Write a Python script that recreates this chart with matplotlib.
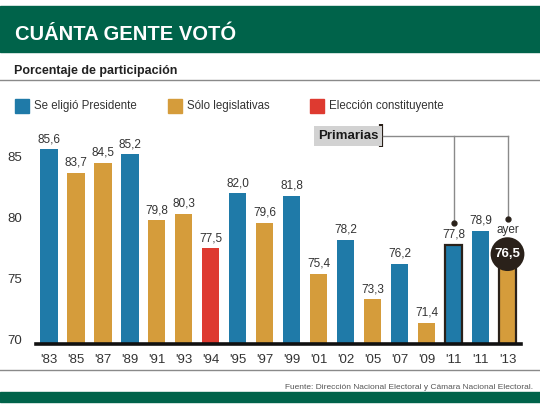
import matplotlib
matplotlib.use("Agg")
import matplotlib.pyplot as plt
from matplotlib.patches import Rectangle
import numpy as np

plt.rcParams["font.family"] = ["Liberation Sans", "DejaVu Sans"]

# data
years = ["'83", "'85", "'87", "'89", "'91", "'93", "'94", "'95", "'97",
         "'99", "'01", "'02", "'05", "'07", "'09", "'11", "'11", "'13"]
turnout = [85.6, 83.7, 84.5, 85.2, 79.8, 80.3, 77.5, 82.0, 79.6,
           81.8, 75.4, 78.2, 73.3, 76.2, 71.4, 77.8, 78.9, 76.5]
kind = ["P", "L", "L", "P", "L", "L", "C", "P", "L",
        "P", "L", "P", "L", "P", "L", "P", "P", "L"]
primarias = [15, 17]          # bars that were primaries
legend_labels = ["Se eligió Presidente", "Sólo legislativas", "Elección constituyente"]
legend_keys = ["P", "L", "C"]

BLUE = "#1f7aa8"
GOLD = "#d59c3b"
RED = "#de3a30"
GREEN = "#00634a"
DARK = "#2a211a"
TXT = "#333333"
colors = {"P": BLUE, "L": GOLD, "C": RED}


def fmt(v):
    return f"{v:.1f}".replace(".", ",")


fig = plt.figure(figsize=(5.4, 4.05), dpi=100)

# header band and titles
fig.add_artist(Rectangle((0, 0.8723), 1, 0.1123, transform=fig.transFigure,
                         color=GREEN, zorder=0))
fig.text(0.027, 0.902, "CUÁNTA GENTE VOTÓ", color="white", fontsize=14.5,
         fontweight="bold", va="baseline")
fig.text(0.026, 0.817, "Porcentaje de participación", color="#222222",
         fontsize=9, fontweight="bold", va="baseline")
fig.add_artist(plt.Line2D([0, 1], [0.802, 0.802], transform=fig.transFigure,
                          color="#8a8a8a", lw=1))

# legend
leg_x = [14.5, 167.7, 310.0]
for px, key, label in zip(leg_x, legend_keys, legend_labels):
    fig.add_artist(Rectangle((px / 540, 0.721), 14 / 540, 14 / 405,
                             transform=fig.transFigure, color=colors[key]))
    fig.text((px + 19) / 540, 0.738, label, color=TXT, fontsize=8.3, va="center")

# bars
ax = fig.add_axes([0.0667, 0.1494, 0.8976, 0.5667])
x = np.arange(len(years))
bar_colors = [colors[k] for k in kind]
edge = [DARK if i in primarias else "none" for i in x]
ax.bar(x, turnout, width=0.64, color=bar_colors, edgecolor=edge, linewidth=1.6)

for i, v in enumerate(turnout):
    if i == len(turnout) - 1:
        continue
    ax.annotate(fmt(v), (x[i], v), xytext=(0, 3), textcoords="offset points",
                ha="center", va="bottom", fontsize=8.5, color=TXT)

# last value in dark circle
ax.annotate(fmt(turnout[-1]), (x[-1], turnout[-1]), xytext=(0, 4.5),
            textcoords="offset points", ha="center", va="center",
            fontsize=9.5, fontweight="bold", color="white",
            bbox=dict(boxstyle="circle,pad=0.3", fc=DARK, ec="none"))
ax.text(x[-1], 79.0, "ayer", ha="center", va="center", fontsize=8.5, color=TXT)

# primarias callout
line_y = 86.7
ax.text(12.2, line_y, "Primarias", ha="right", va="center", fontsize=9.5,
        fontweight="bold", color="#1a1a1a",
        bbox=dict(boxstyle="square,pad=0.3", fc="#d2d2d2", ec="none"))
ax.plot([12.3, 12.3], [85.8, 87.65], color=DARK, lw=3, solid_capstyle="butt",
        clip_on=False)
ax.plot([12.38, x[primarias[-1]]], [line_y, line_y], color="#8a8a8a", lw=1,
        clip_on=False)
dot_y = [79.55, 79.9]
for i, dy in zip(primarias, dot_y):
    ax.plot([x[i], x[i]], [line_y, dy], color="#8a8a8a", lw=1, clip_on=False)
    ax.plot(x[i], dy, "o", color=DARK, ms=3.5, clip_on=False)

ax.set_xlim(-0.48, 17.49)
ax.set_ylim(69.6, 88.43)
ax.set_xticks(x)
ax.set_xticklabels(years)
ax.set_yticks([70, 75, 80, 85])
ax.tick_params(length=0, labelsize=9.5, labelcolor=TXT)
ax.tick_params(axis="x", pad=7)
ax.tick_params(axis="y", pad=10)
for s in ["top", "right", "left"]:
    ax.spines[s].set_visible(False)
ax.spines["bottom"].set_linewidth(2.6)
ax.spines["bottom"].set_color("#111111")
ax.patch.set_visible(False)

# footer
fig.add_artist(plt.Line2D([0, 1], [0.0864, 0.0864], transform=fig.transFigure,
                          color="#8a8a8a", lw=1))
fig.text(0.988, 0.0425, "Fuente: Dirección Nacional Electoral y Cámara Nacional Electoral.",
         ha="right", va="center", fontsize=6, color="#555555")
fig.add_artist(Rectangle((0, 0.0074), 1, 0.024, transform=fig.transFigure,
                         color=GREEN, zorder=0))

fig.savefig("out.png", dpi=100)
